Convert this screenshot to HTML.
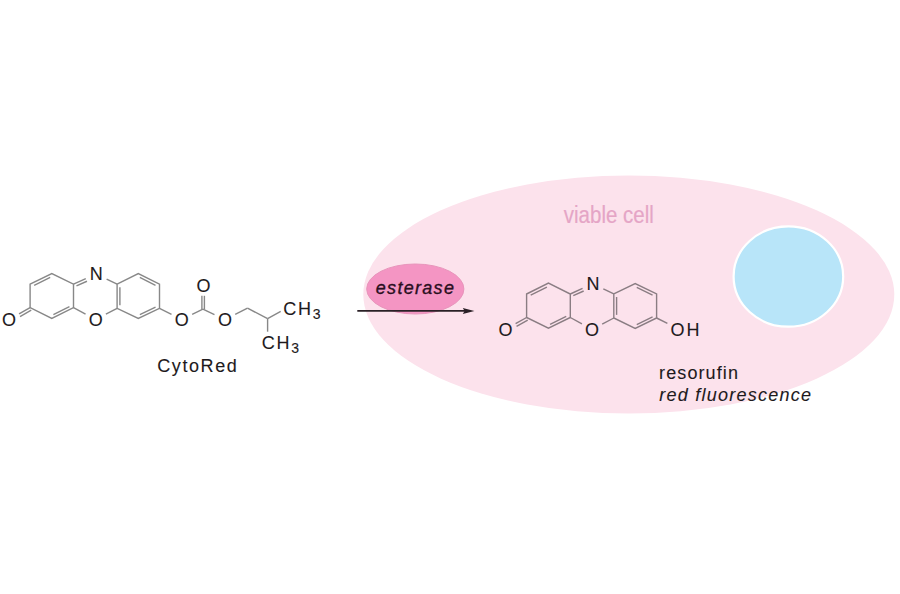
<!DOCTYPE html>
<html><head><meta charset="utf-8"><style>
html,body{margin:0;padding:0;background:#fff;}
svg{display:block;}
text{font-family:"Liberation Sans",sans-serif;}
.k{stroke:#1e1a1c;stroke-width:0.1px;}
.e{stroke:#2a0f1e;stroke-width:0.35px;}
</style></head><body>
<svg width="900" height="594" viewBox="0 0 900 594">
<rect width="900" height="594" fill="#ffffff"/>
<ellipse cx="628.8" cy="294.5" rx="265.5" ry="119.0" fill="#fce2ec"/>
<ellipse cx="788.4" cy="276.5" rx="54.8" ry="50.2" fill="#b8e5f9" stroke="#ffffff" stroke-width="2.2"/>
<ellipse cx="415.3" cy="289.0" rx="48.6" ry="25.0" fill="#f495c3" stroke="#e894bb" stroke-width="1"/>
<text x="0" y="0" font-size="24" fill="#e5a5c6" stroke="#e5a5c6" stroke-width="0.2" transform="translate(563.8,222.6) scale(0.855,1)">viable cell</text>
<path d="M30.10,284.20 L51.80,273.60 L73.50,284.20 L73.50,307.60 L51.80,318.50 L30.10,307.60 Z" fill="none" stroke="#888888" stroke-width="1.4" stroke-linejoin="miter"/>
<path d="M117.10,284.20 L138.30,273.60 L159.50,284.20 L159.50,308.40 L138.30,318.50 L117.10,308.40 Z" fill="none" stroke="#888888" stroke-width="1.4" stroke-linejoin="miter"/>
<line x1="34.15" y1="285.34" x2="50.21" y2="277.49" stroke="#888888" stroke-width="1.4"/>
<line x1="69.42" y1="306.51" x2="53.36" y2="314.58" stroke="#888888" stroke-width="1.4"/>
<line x1="119.90" y1="305.25" x2="119.90" y2="287.35" stroke="#888888" stroke-width="1.4"/>
<line x1="139.80" y1="277.48" x2="155.49" y2="285.33" stroke="#888888" stroke-width="1.4"/>
<line x1="155.54" y1="307.19" x2="139.85" y2="314.66" stroke="#888888" stroke-width="1.4"/>
<line x1="73.50" y1="284.20" x2="85.80" y2="278.70" stroke="#888888" stroke-width="1.4"/>
<line x1="76.47" y1="285.94" x2="86.95" y2="281.25" stroke="#888888" stroke-width="1.4"/>
<line x1="106.63" y1="279.06" x2="117.10" y2="284.20" stroke="#888888" stroke-width="1.4"/>
<line x1="73.50" y1="307.60" x2="85.56" y2="314.07" stroke="#888888" stroke-width="1.4"/>
<line x1="105.91" y1="314.20" x2="117.10" y2="308.40" stroke="#888888" stroke-width="1.4"/>
<text x="96.30" y="280.30" font-size="18" text-anchor="middle" fill="#1e1a1c" class="k">N</text>
<text x="95.70" y="325.80" font-size="18" text-anchor="middle" fill="#1e1a1c" class="k">O</text>
<line x1="30.10" y1="307.60" x2="19.06" y2="313.96" stroke="#888888" stroke-width="1.4"/>
<line x1="31.24" y1="310.18" x2="20.03" y2="316.63" stroke="#888888" stroke-width="1.4"/>
<text x="9.10" y="326.00" font-size="18" text-anchor="middle" fill="#1e1a1c" class="k">O</text>
<line x1="159.50" y1="308.40" x2="171.49" y2="314.31" stroke="#888888" stroke-width="1.4"/>
<line x1="192.15" y1="314.39" x2="202.90" y2="309.20" stroke="#888888" stroke-width="1.4"/>
<line x1="202.90" y1="309.20" x2="214.47" y2="314.56" stroke="#888888" stroke-width="1.4"/>
<line x1="235.20" y1="314.29" x2="247.50" y2="308.20" stroke="#888888" stroke-width="1.4"/>
<line x1="247.50" y1="308.20" x2="267.60" y2="318.60" stroke="#888888" stroke-width="1.4"/>
<line x1="267.60" y1="318.60" x2="280.70" y2="311.40" stroke="#888888" stroke-width="1.4"/>
<line x1="267.60" y1="318.60" x2="267.60" y2="331.70" stroke="#888888" stroke-width="1.4"/>
<line x1="201.90" y1="309.40" x2="201.90" y2="295.80" stroke="#888888" stroke-width="1.4"/>
<line x1="204.40" y1="309.40" x2="204.40" y2="295.80" stroke="#888888" stroke-width="1.4"/>
<text x="181.80" y="325.70" font-size="18" text-anchor="middle" fill="#1e1a1c" class="k">O</text>
<text x="224.90" y="325.70" font-size="18" text-anchor="middle" fill="#1e1a1c" class="k">O</text>
<text x="203.60" y="291.60" font-size="18" text-anchor="middle" fill="#1e1a1c" class="k">O</text>
<text x="283.3" y="315.1" font-size="18" letter-spacing="1.7" fill="#1e1a1c" class="k">CH<tspan font-size="14" dy="4.3">3</tspan></text>
<text x="261.8" y="349.2" font-size="18" letter-spacing="1.7" fill="#1e1a1c" class="k">CH<tspan font-size="14" dy="4.0">3</tspan></text>
<text x="157.2" y="372.3" font-size="18" letter-spacing="1.6" fill="#1e1a1c" class="k">CytoRed</text>
<path d="M526.60,294.00 L548.45,283.10 L570.30,294.00 L570.30,317.50 L548.45,328.20 L526.60,317.50 Z" fill="none" stroke="#8a7d83" stroke-width="1.4" stroke-linejoin="miter"/>
<path d="M613.80,293.90 L635.20,283.50 L656.60,293.90 L656.60,318.00 L635.20,328.40 L613.80,318.00 Z" fill="none" stroke="#8a7d83" stroke-width="1.4" stroke-linejoin="miter"/>
<line x1="530.69" y1="295.09" x2="546.86" y2="287.02" stroke="#8a7d83" stroke-width="1.4"/>
<line x1="566.23" y1="316.38" x2="550.06" y2="324.29" stroke="#8a7d83" stroke-width="1.4"/>
<line x1="616.60" y1="314.87" x2="616.60" y2="297.03" stroke="#8a7d83" stroke-width="1.4"/>
<line x1="636.76" y1="287.37" x2="652.59" y2="295.07" stroke="#8a7d83" stroke-width="1.4"/>
<line x1="652.59" y1="316.83" x2="636.76" y2="324.53" stroke="#8a7d83" stroke-width="1.4"/>
<line x1="570.30" y1="294.00" x2="582.53" y2="288.45" stroke="#8a7d83" stroke-width="1.4"/>
<line x1="573.28" y1="295.72" x2="583.68" y2="291.00" stroke="#8a7d83" stroke-width="1.4"/>
<line x1="603.33" y1="288.76" x2="613.80" y2="293.90" stroke="#8a7d83" stroke-width="1.4"/>
<line x1="570.30" y1="317.50" x2="581.94" y2="323.93" stroke="#8a7d83" stroke-width="1.4"/>
<line x1="602.17" y1="324.13" x2="613.80" y2="318.00" stroke="#8a7d83" stroke-width="1.4"/>
<text x="593.00" y="290.00" font-size="18" text-anchor="middle" fill="#1e1a1c" class="k">N</text>
<text x="592.00" y="335.80" font-size="18" text-anchor="middle" fill="#1e1a1c" class="k">O</text>
<line x1="526.60" y1="317.50" x2="515.61" y2="323.73" stroke="#8a7d83" stroke-width="1.4"/>
<line x1="527.72" y1="320.08" x2="516.55" y2="326.41" stroke="#8a7d83" stroke-width="1.4"/>
<text x="505.60" y="335.70" font-size="18" text-anchor="middle" fill="#1e1a1c" class="k">O</text>
<line x1="656.60" y1="318.00" x2="667.40" y2="323.30" stroke="#8a7d83" stroke-width="1.4"/>
<text x="670.6" y="335.6" font-size="18" letter-spacing="1.8" fill="#1e1a1c" class="k">OH</text>
<text x="659.1" y="379.4" font-size="18" letter-spacing="1.1" fill="#1e1a1c" class="k">resorufin</text>
<text x="659.3" y="401.2" font-size="18" font-style="italic" letter-spacing="1.25" fill="#1e1a1c" class="k">red fluorescence</text>
<text x="375.8" y="293.8" font-size="18" font-style="italic" letter-spacing="1.3" fill="#2a0f1e" class="e">esterase</text>
<line x1="357.30" y1="310.90" x2="465.00" y2="310.90" stroke="#2a2026" stroke-width="1.9"/>
<path d="M474.4,310.9 L462.8,307.9 L464.6,310.9 L462.8,314.0 Z" fill="#2a2026"/>
</svg>
</body></html>
